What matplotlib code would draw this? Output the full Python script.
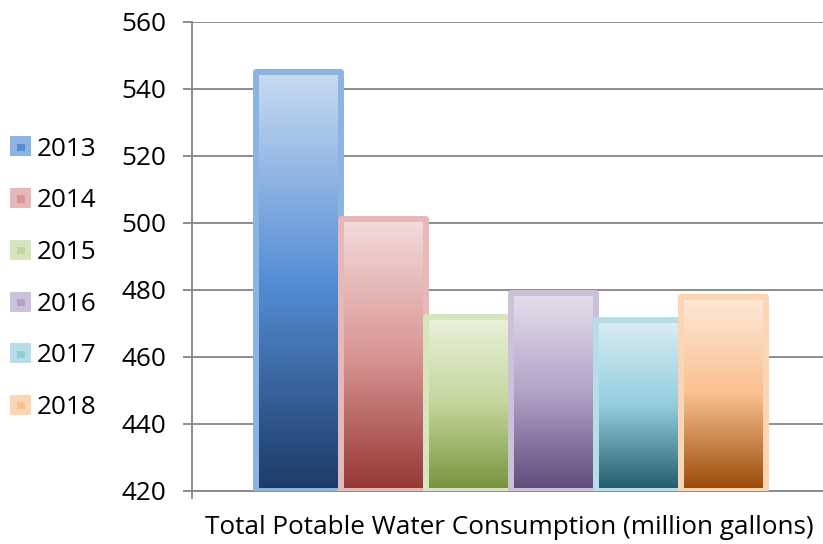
import matplotlib
matplotlib.use("Agg")
from matplotlib import pyplot as plt
from matplotlib.colors import LinearSegmentedColormap
from matplotlib.patches import Rectangle
from matplotlib.legend_handler import HandlerBase
import numpy as np

# data
years = ["2013", "2014", "2015", "2016", "2017", "2018"]
consumption = [545, 501, 472, 479, 471, 478]
category = "Total Potable Water Consumption (million gallons)"
yticks = [420, 440, 460, 480, 500, 520, 540, 560]

# gradient stops per series: bottom (dark), middle, top (light), border
dark = ["#1c3a66", "#953735", "#76923c", "#604a7b", "#215968", "#984807"]
mid = ["#558ed5", "#d99694", "#c3d69b", "#b3a2c7", "#93cddd", "#fac090"]
light = ["#c9dcf2", "#f2dcdb", "#ebf1de", "#e5e0ec", "#dbeef4", "#fde9d9"]
border = ["#8db3e2", "#e6b9b8", "#d7e4bd", "#ccc1da", "#b7dee8", "#fcd5b5"]

plt.rcParams["font.family"] = ["Open Sans", "DejaVu Sans"]
FS = 18.8
GRID = "#8c8c8c"

fig = plt.figure(figsize=(8.23, 5.44), dpi=100)
W, H = 823, 544
ax = fig.add_axes([191.7 / W, (H - 491) / H, (823 - 191.7) / W, (491 - 21.7) / H])

bar_w = 85 / (823 - 191.7)
n = len(years)
# bars centred a little right of the plot middle, as in the reference
x0 = 0.5 + 4 / (823 - 191.7) - bar_w * n / 2

grad = np.linspace(0, 1, 256).reshape(-1, 1)
for i, (yr, v) in enumerate(zip(years, consumption)):
    cmap = LinearSegmentedColormap.from_list(
        yr, [(0, dark[i]), (0.5, mid[i]), (1, light[i])])
    left = x0 + i * bar_w
    img = ax.imshow(grad, cmap=cmap, origin="lower", aspect="auto",
                    extent=[left, left + bar_w, yticks[0], v],
                    interpolation="bilinear", zorder=2 + 2 * i)
    clip = Rectangle((left, yticks[0]), bar_w, v - yticks[0],
                     transform=ax.transData, facecolor="none")
    img.set_clip_path(clip)
    ax.add_patch(Rectangle((left, yticks[0]), bar_w, v - yticks[0],
                           facecolor="none", edgecolor=border[i],
                           linewidth=4.3, joinstyle="round",
                           zorder=3 + 2 * i))

ax.set_xlim(0, 1)
ax.set_ylim(yticks[0], yticks[-1])
ax.set_yticks(yticks)
ax.yaxis.grid(True, color=GRID, linewidth=1.4, zorder=0)
ax.set_axisbelow(True)
for s in ["top", "right"]:
    ax.spines[s].set_visible(False)
ax.spines["left"].set_color(GRID)
ax.spines["left"].set_linewidth(1.4)
ax.spines["bottom"].set_color(GRID)
ax.spines["bottom"].set_linewidth(1.4)
ax.tick_params(axis="y", length=6.5, width=1.4, color=GRID,
               labelsize=FS, pad=12)
ax.set_xticks([0])
ax.set_xticklabels([""])
ax.tick_params(axis="x", length=6, width=1.4, color=GRID)

fig.text(509 / W, 1 - 528 / H, category, fontsize=FS, ha="center",
         va="center")


class SwatchHandler(HandlerBase):
    def create_artists(self, legend, orig, xd, yd, width, height,
                       fontsize, trans):
        outer = Rectangle((-xd, -yd), width, height,
                          facecolor=orig.get_edgecolor(), edgecolor="none",
                          transform=trans)
        s = width * 0.42
        inner = Rectangle((-xd + (width - s) / 2, -yd + (height - s) / 2),
                          s, s * 0.8, facecolor=orig.get_facecolor(),
                          edgecolor="none", transform=trans)
        return [outer, inner]


handles = [Rectangle((0, 0), 1, 1, facecolor=mid[i], edgecolor=border[i])
           for i in range(n)]
fig.legend(handles, years, loc="upper left",
           bbox_to_anchor=(0 / W, 1 - 126 / H), frameon=False,
           fontsize=FS, handlelength=0.8, handleheight=0.8,
           handletextpad=0.2, labelspacing=1.02, borderaxespad=0,
           handler_map={Rectangle: SwatchHandler()})

fig.savefig("out.png", dpi=100)
